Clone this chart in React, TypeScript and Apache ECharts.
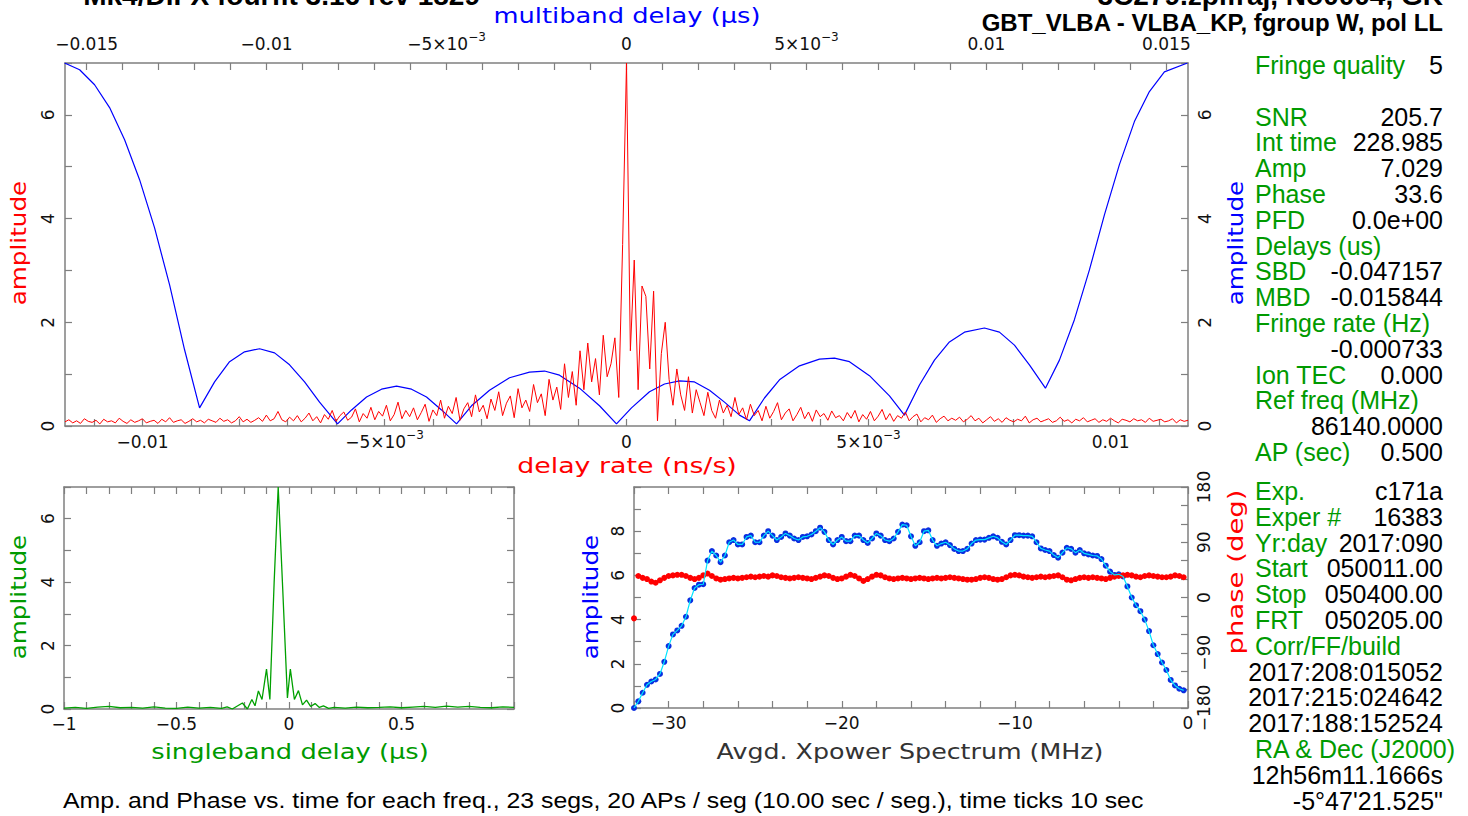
import React, { useEffect, useRef } from 'react';
import * as echarts from 'echarts';

// ---------- data ----------
// delay-rate spectrum (red), amplitude per rate bin
const RATE_START = -0.0116;
const RATE_STEP = 0.00008;
const RATE_AMP = [
  0.08,0.12,0.06,0.1,0.05,0.14,0.09,0.07,0.11,0.04,
  0.13,0.08,0.1,0.06,0.15,0.09,0.05,0.12,0.07,0.1,
  0.14,0.06,0.09,0.11,0.05,0.13,0.08,0.16,0.07,0.1,
  0.12,0.05,0.09,0.14,0.08,0.11,0.06,0.13,0.1,0.07,
  0.15,0.09,0.12,0.06,0.1,0.18,0.08,0.13,0.07,0.11,
  0.16,0.09,0.21,0.1,0.14,0.28,0.12,0.08,0.17,0.1,
  0.2,0.08,0.15,0.25,0.1,0.18,0.06,0.22,0.13,0.3,
  0.09,0.2,0.27,0.11,0.17,0.33,0.08,0.24,0.15,0.36,
  0.12,0.28,0.19,0.4,0.1,0.22,0.46,0.14,0.3,0.18,
  0.35,0.12,0.26,0.42,0.09,0.31,0.2,0.5,0.15,0.38,
  0.24,0.55,0.11,0.33,0.45,0.18,0.6,0.27,0.4,0.14,
  0.52,0.3,0.66,0.2,0.44,0.58,0.16,0.72,0.35,0.5,
  0.28,0.8,0.45,0.62,0.2,0.9,0.5,0.75,0.32,1.2,
  0.55,1.05,0.4,1.45,0.7,1.6,0.85,1.3,0.6,1.75,
  0.95,1.2,1.7,0.55,3.5,
  7.0,
  1.45,3.2,0.7,2.7,2.5,1.1,2.6,0.1,1.4,2.0,
  0.9,0.4,1.1,0.6,0.3,0.95,0.25,0.7,0.45,0.2,
  0.65,0.3,0.15,0.5,0.25,
  0.4,0.18,0.55,0.22,0.35,0.12,0.42,0.2,0.3,0.1,
  0.38,0.15,0.28,0.45,0.12,0.25,0.33,0.1,0.22,0.36,
  0.14,0.27,0.09,0.31,0.18,0.24,0.11,0.29,0.16,0.2,
  0.1,0.26,0.15,0.3,0.08,0.22,0.13,0.28,0.1,0.19,
  0.32,0.12,0.24,0.09,0.2,0.15,0.27,0.1,0.18,0.23,
  0.08,0.16,0.12,0.21,0.07,0.14,0.19,0.1,0.15,0.11,
  0.17,0.08,0.13,0.2,0.1,0.15,0.06,0.12,0.18,0.09,
  0.14,0.07,0.16,0.11,0.08,0.13,0.1,0.19,0.06,0.12,
  0.15,0.08,0.11,0.14,0.07,0.1,0.17,0.09,0.12,0.06,
  0.13,0.1,0.16,0.08,0.11,0.14,0.07,0.12,0.09,0.15,
  0.1,0.06,0.13,0.11,0.08,0.14,0.1,0.12,0.07,0.15,
  0.09,0.11,0.13,0.08,0.1,0.14,0.06,0.12,0.09,0.11,
];

// multiband delay function (blue)
const MBD_DELAY = [
  -0.015611,-0.015194,-0.014778,-0.014361,-0.013944,-0.013528,-0.013111,-0.012694,-0.012278,-0.011861,
  -0.011444,-0.011028,-0.010611,-0.010194,-0.009778,-0.009361,-0.008944,-0.008528,-0.008028,
  -0.007639,-0.007222,-0.006806,-0.006389,-0.005972,-0.005556,-0.005139,-0.004722,
  -0.004306,-0.003806,-0.00325,-0.002694,-0.002278,-0.001861,-0.001306,-0.00075,-0.000278,
  0.000139,0.000639,0.001056,0.001472,0.001889,0.002306,0.002722,0.003139,0.003417,
  0.003833,0.00425,0.004806,0.005361,0.005778,0.006194,0.00675,0.007306,0.007722,
  0.008139,0.008556,0.008972,0.009389,0.009944,0.010361,0.010778,0.011194,0.011639,
  0.012028,0.012444,0.012861,0.013278,0.013694,0.014111,0.014528,0.014944,0.015583,
];
const MBD_AMP = [
  7.0,6.87,6.58,6.14,5.52,4.75,3.82,2.72,1.47,0.35,
  0.85,1.24,1.43,1.49,1.41,1.18,0.85,0.46,0.04,
  0.31,0.56,0.71,0.77,0.71,0.56,0.31,0.04,
  0.39,0.69,0.93,1.04,1.06,0.98,0.73,0.39,0.04,
  0.35,0.66,0.81,0.87,0.85,0.69,0.46,0.21,0.1,
  0.54,0.89,1.16,1.29,1.31,1.24,0.97,0.58,0.21,
  0.79,1.27,1.62,1.81,1.89,1.81,1.56,1.18,0.73,
  1.27,2.05,3.01,4.07,5.04,5.87,6.45,6.83,7.0,
];

// singleband delay function (green)
const SBD_DELAY = [
  -1.0,-0.95,-0.9,-0.85,-0.8,-0.75,-0.7,-0.65,-0.6,-0.55,-0.5,-0.45,-0.4,-0.35,-0.3,
  -0.275,-0.252,-0.207,-0.185,-0.165,-0.151,-0.136,-0.12,-0.1,-0.085,-0.066,-0.048,-0.028,-0.007,
  0.006,0.024,0.042,0.06,0.078,0.096,0.116,0.135,0.153,0.176,
  0.2,0.25,0.3,0.35,0.4,0.45,0.5,0.55,0.6,0.65,0.7,0.75,0.8,0.85,0.9,0.95,1.0,
];
const SBD_AMP = [
  0.03,0.05,0.02,0.06,0.08,0.04,0.05,0.03,0.07,0.03,0.02,0.06,0.03,0.05,0.02,
  0.07,0.0,0.19,0.0,0.3,0.1,0.57,0.3,1.26,0.3,4.0,7.0,3.8,0.35,
  1.26,0.3,0.58,0.13,0.28,0.08,0.17,0.05,0.1,0.02,
  0.05,0.03,0.06,0.04,0.05,0.07,0.04,0.06,0.08,0.05,0.09,0.06,0.08,0.05,0.04,0.07,0.05,
];

// averaged cross-power spectrum
const XP_START = -32;
const XP_STEP = 0.25;
const XP_AMP = [
  0.0,0.3,0.69,1.05,1.2,1.29,1.54,2.09,2.8,3.33,
  3.51,3.72,4.13,4.87,5.43,5.58,5.6,6.67,7.1,6.9,
  6.6,6.9,7.5,7.6,7.4,7.4,7.74,7.8,7.5,7.5,
  7.8,8.0,7.8,7.6,7.74,7.9,7.8,7.67,7.6,7.74,
  7.77,7.85,8.0,8.16,7.97,7.6,7.4,7.6,7.74,7.55,
  7.55,7.8,7.8,7.6,7.47,7.67,7.9,7.8,7.6,7.55,
  7.67,7.97,8.3,8.27,7.77,7.34,7.5,8.0,8.04,7.6,
  7.34,7.44,7.5,7.37,7.2,7.1,7.1,7.2,7.44,7.6,
  7.62,7.62,7.7,7.77,7.7,7.52,7.4,7.6,7.82,7.82,
  7.8,7.8,7.77,7.5,7.22,7.15,7.1,6.92,6.8,7.03,
  7.25,7.2,7.03,7.15,7.0,6.95,6.9,6.88,6.74,6.44,
  6.17,6.02,6.05,5.95,5.5,5.0,4.65,4.38,4.0,3.48,
  2.84,2.44,2.06,1.72,1.27,1.02,0.87,0.8,
];
const XP_PHASE = [
  -34,35,32,30,26,24,28,32,35,36,
  37,37,35,32,30,32,36,39,35,31,
  29,30,31,32,31,32,33,34,33,34,
  35,34,36,35,33,32,31,32,33,32,
  31,30,32,34,36,35,32,30,31,34,
  37,35,31,27,30,34,37,36,33,31,
  30,31,32,31,30,31,32,31,30,31,
  32,31,32,33,32,31,30,29,29,30,
  32,33,32,30,29,30,33,36,37,36,
  34,33,32,33,34,33,34,35,36,33,
  29,28,30,32,33,32,33,32,31,30,
  32,34,35,36,37,36,34,33,35,36,
  35,34,33,33,34,36,35,33,
];

// tick labels
const RATE_LABELS = [-0.01, -0.005, 0, 0.005, 0.01];
const MBD_LABELS = [-0.015, -0.01, -0.005, 0, 0.005, 0.01, 0.015];
const AMP_LABELS = [0, 2, 4, 6];
const SBD_LABELS = [-1, -0.5, 0, 0.5];
const FREQ_LABELS = [-30, -20, -10, 0];
const XPAMP_LABELS = [0, 2, 4, 6, 8];
const PHASE_LABELS = [-180, -90, 0, 90, 180];

// text panel
const INFO_A: (string[] | null)[] = [
  ['Fringe quality', '5'],
  null,
  ['SNR', '205.7'],
  ['Int time', '228.985'],
  ['Amp', '7.029'],
  ['Phase', '33.6'],
  ['PFD', '0.0e+00'],
  ['Delays (us)', ''],
  ['SBD', '-0.047157'],
  ['MBD', '-0.015844'],
  ['Fringe rate (Hz)', ''],
  ['', '-0.000733'],
  ['Ion TEC', '0.000'],
  ['Ref freq (MHz)', ''],
  ['', '86140.0000'],
  ['AP (sec)', '0.500'],
];
const INFO_B: string[][] = [
  ['Exp.', 'c171a'],
  ['Exper #', '16383'],
  ['Yr:day', '2017:090'],
  ['Start', '050011.00'],
  ['Stop', '050400.00'],
  ['FRT', '050205.00'],
  ['Corr/FF/build', ''],
  ['', '2017:208:015052'],
  ['', '2017:215:024642'],
  ['', '2017:188:152524'],
  ['RA & Dec (J2000)', ''],
  ['', '12h56m11.1666s'],
  ['', '-5°47\'21.525"'],
];
const TITLE_LEFT = 'Mk4/DiFX fourfit 3.16 rev 1829';
const TITLE_RIGHT_1 = '3C279.zpifraj, No0004, GK';
const TITLE_RIGHT_2 = 'GBT_VLBA - VLBA_KP, fgroup W, pol LL';
const FOOTER = 'Amp. and Phase vs. time for each freq., 23 segs, 20 APs / seg (10.00 sec / seg.), time ticks 10 sec';

// ---------- helpers ----------
const steps = (a: number, b: number, s: number) => {
  const out: number[] = [];
  const n = Math.round((b - a) / s);
  for (let k = 0; k <= n; k++) out.push(+(a + k * s).toFixed(6));
  return out;
};
const minus = (v: number) => (v < 0 ? '\u2212' + String(Math.abs(v)) : String(v));
const sciFmt = (v: number) => {
  if (Math.abs(v) < 1e-12) return '{b|0}';
  if (Math.abs(Math.abs(v) - 0.005) < 1e-9) return `{b|${v < 0 ? '\u2212' : ''}5\u00d710}{s|\u22123}`;
  return `{b|${minus(+v.toFixed(4))}}`;
};

const AX_FONT = 'DejaVu Sans';
const GRAY = '#7f7f7f';
const RICH = {
  b: { fontSize: 17, lineHeight: 26, fontFamily: AX_FONT, color: '#111' },
  s: { fontSize: 12, lineHeight: 12, fontFamily: AX_FONT, color: '#111', verticalAlign: 'top' },
};

function axis(opts: any) {
  const { gridIndex, position, min, max, ticks, labels, fmt, margin, rotate, rich } = opts;
  return {
    type: 'value',
    gridIndex,
    position,
    min,
    max,
    axisLine: { show: true, onZero: false, lineStyle: { color: GRAY, width: 1.5 } },
    axisTick: { show: true, inside: true, length: 7, customValues: ticks, lineStyle: { color: GRAY, width: 1.2 } },
    axisLabel: labels
      ? {
          show: true,
          customValues: labels,
          formatter: fmt,
          margin,
          rotate: rotate || 0,
          color: '#111',
          fontSize: 17,
          fontFamily: AX_FONT,
          rich: rich || undefined,
        }
      : { show: false },
    splitLine: { show: false },
  };
}

const T = (text: string, x: number, y: number, fill: string, size: number, extra: any = {}) => ({
  type: 'text',
  x,
  y,
  rotation: extra.rotation || 0,
  scaleX: extra.scaleX || 1,
  silent: true,
  style: {
    text,
    x: 0,
    y: 0,
    fill,
    fontSize: size,
    fontFamily: extra.fontFamily || AX_FONT,
    fontWeight: extra.fontWeight || 'normal',
    align: extra.align || 'center',
    verticalAlign: extra.verticalAlign || 'middle',
    textAlign: extra.align || 'center',
    textVerticalAlign: extra.verticalAlign || 'middle',
  },
});

export default function App() {
  const ref = useRef<HTMLDivElement>(null);
  useEffect(() => {
    if (!ref.current) return;
    const chart = echarts.init(ref.current, null, { renderer: 'svg' });

    const rateData = RATE_AMP.map((v, i) => [RATE_START + i * RATE_STEP, v]);
    const mbdData = MBD_DELAY.map((d, i) => [d, MBD_AMP[i]]);
    const sbdData = SBD_DELAY.map((d, i) => [d, SBD_AMP[i]]);
    const xpAmp = XP_AMP.map((v, i) => [XP_START + i * XP_STEP, v]);
    const xpPh = XP_PHASE.map((v, i) => [XP_START + i * XP_STEP, v]);

    const SANS = 'Liberation Sans';
    const GREEN = '#009a00';
    const graphics: any[] = [];
    const rowH = 25.8;
    const INFO_SIZE = 25;
    INFO_A.forEach((r, k) => {
      if (!r) return;
      const y = 65 + k * rowH;
      if (r[0]) graphics.push(T(r[0], 1255, y, GREEN, INFO_SIZE, { align: 'left', fontFamily: SANS }));
      if (r[1]) graphics.push(T(r[1], 1443, y, '#000', INFO_SIZE, { align: 'right', fontFamily: SANS }));
    });
    INFO_B.forEach((r, k) => {
      const y = 491 + k * rowH;
      if (r[0]) graphics.push(T(r[0], 1255, y, GREEN, INFO_SIZE, { align: 'left', fontFamily: SANS }));
      if (r[1]) graphics.push(T(r[1], 1443, y, '#000', INFO_SIZE, { align: 'right', fontFamily: SANS }));
    });
    graphics.push(T(TITLE_LEFT, 480, -5, '#000', 28, { align: 'right', fontFamily: SANS, fontWeight: 'bold' }));
    graphics.push(T(TITLE_RIGHT_1, 1443, -5, '#000', 28, { align: 'right', fontFamily: SANS, fontWeight: 'bold' }));
    graphics.push(T(TITLE_RIGHT_2, 1443, 22, '#000', 24, { align: 'right', fontFamily: SANS, fontWeight: 'bold' }));
    graphics.push(T(FOOTER, 63, 801, '#000', 22, { align: 'left', fontFamily: SANS, scaleX: 1.13 }));

    const W = 1.17;
    graphics.push(T('multiband delay (\u03bcs)', 627, 16, '#0000ff', 22, { scaleX: W }));
    graphics.push(T('delay rate (ns/s)', 627, 465, '#ff0000', 22, { scaleX: 1.22 }));
    graphics.push(T('amplitude', 18, 243, '#ff0000', 22, { rotation: Math.PI / 2, scaleX: 1.12 }));
    graphics.push(T('amplitude', 1235, 243, '#0000ff', 22, { rotation: Math.PI / 2, scaleX: 1.12 }));
    graphics.push(T('amplitude', 18, 597, GREEN, 22, { rotation: Math.PI / 2, scaleX: 1.12 }));
    graphics.push(T('singleband delay (\u03bcs)', 290, 752, GREEN, 22, { scaleX: W }));
    graphics.push(T('amplitude', 590, 597, '#0000ff', 22, { rotation: Math.PI / 2, scaleX: 1.12 }));
    graphics.push(T('phase (deg)', 1235, 572, '#ff0000', 22, { rotation: Math.PI / 2, scaleX: 1.25 }));
    graphics.push(T('Avgd. Xpower Spectrum (MHz)', 910, 752, '#333', 22, { scaleX: 1.15 }));

    const option: any = {
      animation: false,
      backgroundColor: '#ffffff',
      grid: [
        { left: 65, top: 63, width: 1123, height: 363 },
        { left: 64, top: 487, width: 450, height: 222 },
        { left: 634, top: 487, width: 554, height: 221 },
      ],
      xAxis: [
        axis({ gridIndex: 0, position: 'bottom', min: -0.0116, max: 0.0116, ticks: steps(-0.011, 0.011, 0.001), labels: RATE_LABELS, fmt: sciFmt, margin: 3, rich: RICH }),
        axis({ gridIndex: 0, position: 'top', min: -0.0156, max: 0.0156, ticks: steps(-0.015, 0.015, 0.001), labels: MBD_LABELS, fmt: sciFmt, margin: 6, rich: RICH }),
        axis({ gridIndex: 1, position: 'bottom', min: -1, max: 1, ticks: steps(-1, 1, 0.1), labels: SBD_LABELS, fmt: minus, margin: 6 }),
        axis({ gridIndex: 1, position: 'top', min: -1, max: 1, ticks: steps(-1, 1, 0.1) }),
        axis({ gridIndex: 2, position: 'bottom', min: -32, max: 0, ticks: steps(-32, 0, 2), labels: FREQ_LABELS, fmt: minus, margin: 6 }),
        axis({ gridIndex: 2, position: 'top', min: -32, max: 0, ticks: steps(-32, 0, 2) }),
      ],
      yAxis: [
        axis({ gridIndex: 0, position: 'left', min: 0, max: 7, ticks: steps(0, 7, 1), labels: AMP_LABELS, fmt: minus, margin: 9, rotate: 90 }),
        axis({ gridIndex: 0, position: 'right', min: 0, max: 7, ticks: steps(0, 7, 1), labels: AMP_LABELS, fmt: minus, margin: 8, rotate: 90 }),
        axis({ gridIndex: 1, position: 'left', min: 0, max: 7, ticks: steps(0, 7, 1), labels: AMP_LABELS, fmt: minus, margin: 8, rotate: 90 }),
        axis({ gridIndex: 1, position: 'right', min: 0, max: 7, ticks: steps(0, 7, 1) }),
        axis({ gridIndex: 2, position: 'left', min: 0, max: 10, ticks: steps(0, 10, 1), labels: XPAMP_LABELS, fmt: minus, margin: 8, rotate: 90 }),
        axis({ gridIndex: 2, position: 'right', min: -180, max: 180, ticks: steps(-180, 180, 30), labels: PHASE_LABELS, fmt: minus, margin: 7, rotate: 90 }),
      ],
      series: [
        {
          type: 'line', xAxisIndex: 0, yAxisIndex: 0, data: rateData, showSymbol: false,
          lineStyle: { color: '#ff0000', width: 1 }, itemStyle: { color: '#ff0000' }, z: 3,
        },
        {
          type: 'line', xAxisIndex: 1, yAxisIndex: 1, data: mbdData, showSymbol: false,
          lineStyle: { color: '#0000ff', width: 1.2 }, itemStyle: { color: '#0000ff' }, z: 2,
        },
        {
          type: 'line', xAxisIndex: 2, yAxisIndex: 2, data: sbdData, showSymbol: false,
          lineStyle: { color: '#00a000', width: 1.3 }, itemStyle: { color: '#00a000' },
        },
        {
          type: 'scatter', xAxisIndex: 4, yAxisIndex: 4, data: xpAmp, symbolSize: 6,
          itemStyle: { color: '#0a2ee0', opacity: 1 }, z: 2,
        },
        {
          type: 'line', xAxisIndex: 4, yAxisIndex: 4, data: xpAmp, showSymbol: false,
          lineStyle: { color: '#00e5ff', width: 1.2 }, itemStyle: { color: '#00e5ff' }, z: 4,
        },
        {
          type: 'scatter', xAxisIndex: 4, yAxisIndex: 5, data: xpPh, symbolSize: 6,
          itemStyle: { color: '#ff0000', opacity: 1 }, z: 3,
        },
      ],
      graphic: graphics,
    };
    chart.setOption(option);
    return () => chart.dispose();
  }, []);

  return (
    <div
      ref={ref}
      style={{ position: 'absolute', left: 0, top: 0, width: 1468, height: 816, background: '#fff' }}
    />
  );
}
